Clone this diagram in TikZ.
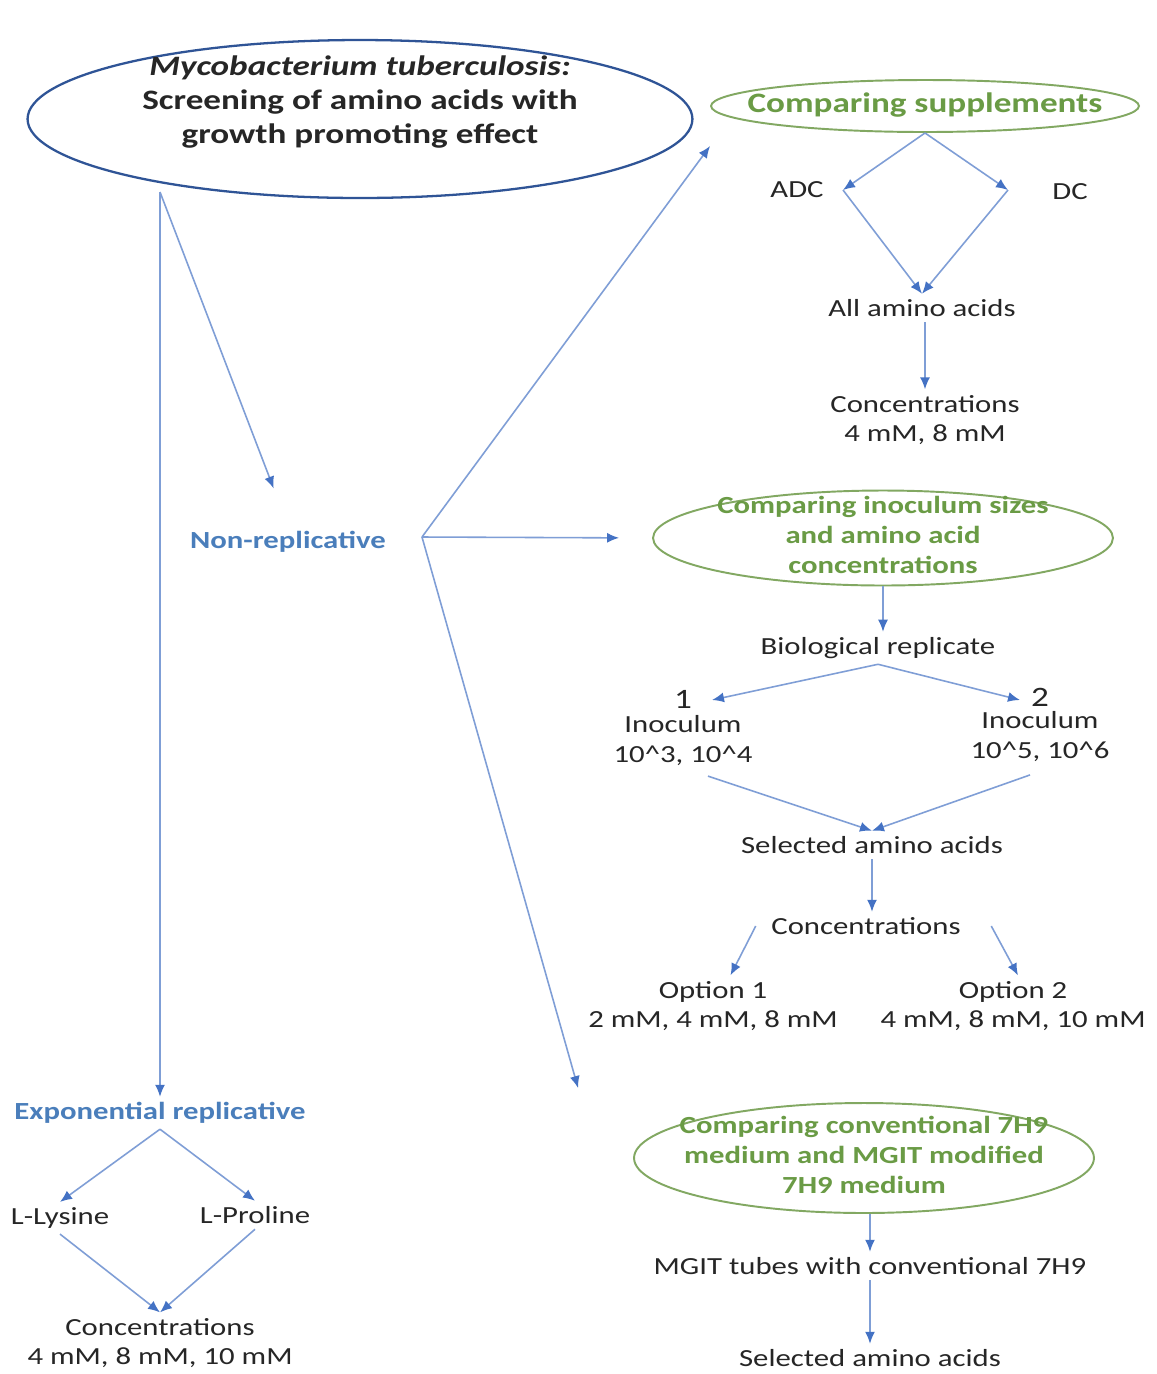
\documentclass[tikz,border=0pt]{standalone}
\usepackage{fontspec}
\setmainfont{Carlito}[FakeStretch=1.25]
\usetikzlibrary{arrows.meta,positioning,shapes.geometric}
\definecolor{arrColor}{HTML}{7F9ED6}
\definecolor{tipColor}{HTML}{4472C4}
\definecolor{labBlue}{HTML}{4A7EBB}
\definecolor{labGreen}{HTML}{6A9B45}
\definecolor{ellGreen}{HTML}{82A862}
\definecolor{ellBlue}{HTML}{2F5496}
\definecolor{txtGray}{HTML}{262626}
\newcommand{\inell}[2][-0.25em]{\makebox[0pt]{\raisebox{#1}[0pt][0pt]{\begin{tabular}{@{}c@{}}#2\end{tabular}}}}
\newcommand{\pw}[1]{10\textasciicircum#1}
\tikzset{
	arr/.style={draw=arrColor, line width=0.9pt, -{Latex[length=2.4mm,width=2mm,color=tipColor]}},
	txt/.style={text=txtGray, font=\fontsize{14}{17}\selectfont, align=center, inner sep=3pt},
	blab/.style={text=labBlue, font=\bfseries\fontsize{14}{17}\selectfont, inner sep=3pt},
	gell/.style={ellipse, draw=ellGreen, line width=1.1pt, inner sep=0pt, text=labGreen, font=\bfseries\fontsize{14}{17}\selectfont}
}
\begin{document}
\begin{tikzpicture}[x=0.02cm, y=-0.02cm]
	\path[use as bounding box, fill=white] (0,0) rectangle (1157,1374);
	\node[ellipse, draw=ellBlue, line width=1.3pt, inner sep=0pt, minimum width=13.3cm, minimum height=3.16cm, text=txtGray, font=\bfseries\fontsize{16}{19.5}\selectfont] (mtb) at (360,119) {\inell[0.18cm]{\textit{Mycobacterium tuberculosis:}\\Screening of amino acids with\\growth promoting effect}};
	\coordinate (msplit) at (160,192);
	
	% supplements branch
	\node[gell, minimum width=8.56cm, minimum height=1.04cm, font=\bfseries\fontsize{16}{19.5}\selectfont] (supp) at (925,106) {\inell{Comparing supplements}};
	\node[txt] (adc) at (797,190) {ADC};
	\node[txt] (dc) at (1070,192) {DC};
	\coordinate (adcp) at (843,190);
	\coordinate (dcp) at (1008,190);
	\node[txt] (allaa) at (922,308) {All amino acids};
	\node[txt] (concA) at (925,420) {Concentrations\\4 mM, 8 mM};
	
	% non-replicative
	\node[blab] (nonrep) at (288,542) {Non-replicative};
	\coordinate (nfork) at (422,537);
	
	% inoculum branch
	\node[gell, minimum width=9.2cm, minimum height=1.9cm] (inoc) at (883,538) {\inell{Comparing inoculum sizes\\and amino acid\\concentrations}};
	\node[txt] (biorep) at (878,648) {Biological replicate};
	\node[txt] (rep1) at (683,728) {{\fontsize{16}{17}\selectfont 1}\\[-0.12cm]Inoculum\\\pw{3}, \pw{4}};
	\node[txt] (rep2) at (1040,725) {{\fontsize{16}{17}\selectfont 2}\\[-0.15cm]Inoculum\\\pw{5}, \pw{6}};
	\coordinate (r1p) at (712,700);
	\coordinate (r2p) at (1020,700);
	\node[txt] (selA) at (872,845) {Selected amino acids};
	\node[txt] (concB) at (866,926) {Concentrations};
	\node[txt] (opt1) at (713,1006) {Option 1\\2 mM, 4 mM, 8 mM};
	\node[txt] (opt2) at (1013,1006) {Option 2\\4 mM, 8 mM, 10 mM};
	
	% media branch
	\node[gell, minimum width=9.2cm, minimum height=2.2cm] (media) at (864,1158) {\inell{Comparing conventional 7H9\\medium and MGIT modified\\7H9 medium}};
	\node[txt] (mgit) at (870,1266) {MGIT tubes with conventional 7H9};
	\node[txt] (selB) at (870,1358) {Selected amino acids};
	
	% exponential replicative
	\node[blab] (expo) at (160,1113) {Exponential replicative};
	\node[txt] (lys) at (60,1218) {L-Lysine};
	\node[txt] (pro) at (255,1215) {L-Proline};
	\node[txt] (concC) at (160,1343) {Concentrations\\4 mM, 8 mM, 10 mM};
	
	\draw[arr] (msplit) -- (expo.north);
	\draw[arr, shorten >=0.8cm] (msplit) -- (nonrep.north);
	\draw[arr] (nfork) -- ([yshift=-0.8cm]supp.west);
	\draw[arr, shorten >=0.66cm] (nfork) -- (inoc.west);
	\draw[arr] (nfork) -- ([xshift=-1.1cm,yshift=1.4cm]media.west);
	
	\draw[arr] (supp.south) -- (adcp);
	\draw[arr] (supp.south) -- (dcp);
	\draw[arr] (adcp) -- (allaa.north);
	\draw[arr] (dcp) -- (allaa.north);
	\draw[arr] (concA.north |- allaa.south) -- (concA.north);
	
	\draw[arr] (inoc.south) -- (inoc.south |- biorep.north);
	\draw[arr] (biorep.south) -- (r1p);
	\draw[arr] (biorep.south) -- (r2p);
	\draw[arr] ([xshift=0.5cm,yshift=-0.1cm]rep1.south) -- (selA.north);
	\draw[arr] ([xshift=-0.2cm,yshift=-0.15cm]rep2.south) -- (selA.north);
	\draw[arr] (selA.south) -- (selA.south |- concB.north);
	\draw[arr] ([xshift=-0.2cm]concB.west) -- ([xshift=0.35cm]opt1.north);
	\draw[arr] ([xshift=0.5cm]concB.east) -- ([xshift=0.1cm]opt2.north);
	
	\draw[arr] (media.south -| mgit.north) -- (mgit.north);
	\draw[arr] (mgit.south) -- (selB.north);
	
	\draw[arr] (expo.south) -- (lys.north);
	\draw[arr] (expo.south) -- (pro.north);
	\draw[arr] (lys.south) -- (concC.north);
	\draw[arr] (pro.south) -- (concC.north);
\end{tikzpicture}
\end{document}
